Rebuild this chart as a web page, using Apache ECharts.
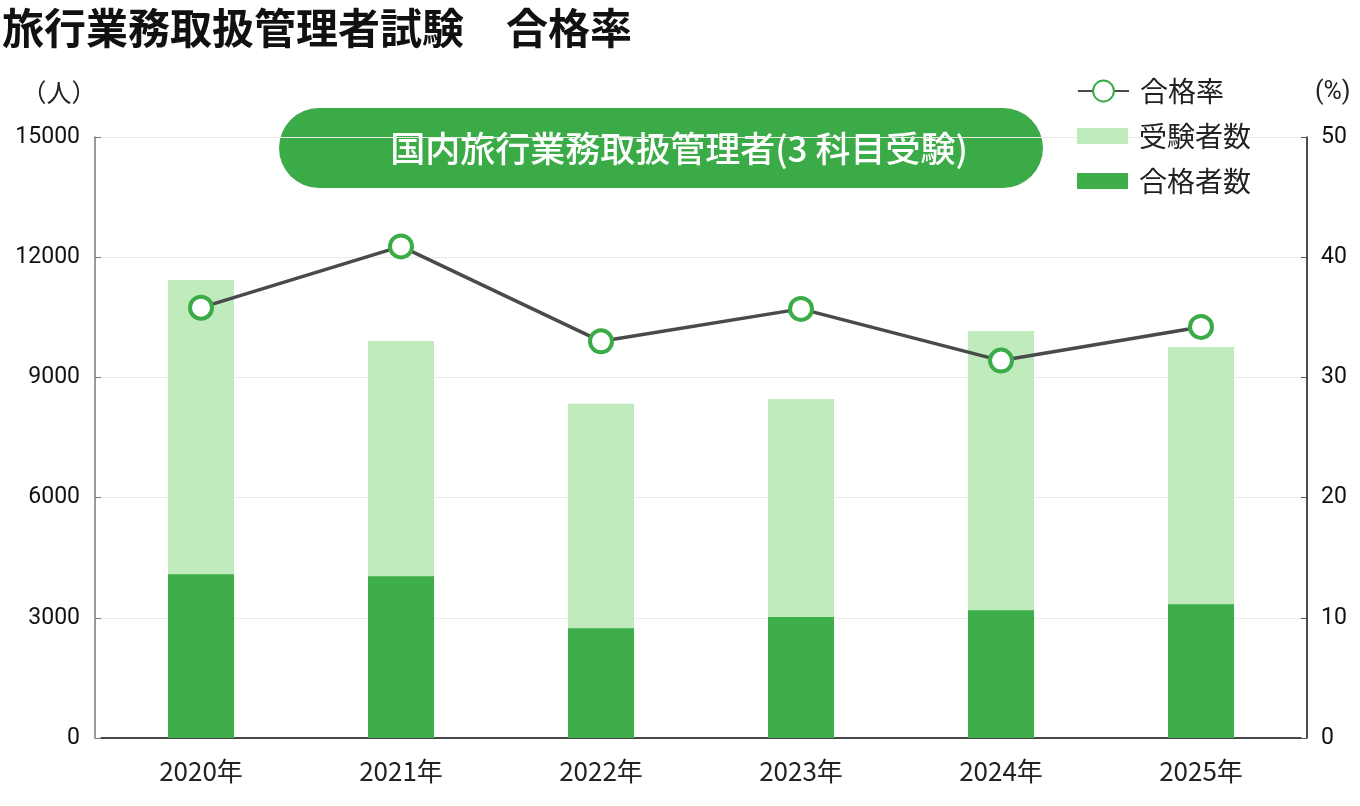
<!DOCTYPE html>
<html>
<head>
<meta charset="utf-8">
<script src="https://cdn.jsdelivr.net/npm/echarts@6/dist/echarts.min.js"></script>
<style>
  html, body { margin: 0; padding: 0; background: #fff; }
  #chart { width: 1360px; height: 806px; }
</style>
</head>
<body>
<div id="chart"></div>
<script>
// data
const years = ['2020年', '2021年', '2022年', '2023年', '2024年', '2025年'];
const examinees = [11430, 9910, 8340, 8460, 10160, 9760];
const passers = [4090, 4040, 2740, 3020, 3190, 3340];
const passRate = [35.8, 40.9, 33.0, 35.7, 31.4, 34.2];
const leftTicks = [0, 3000, 6000, 9000, 12000, 15000];
const rightTicks = [0, 10, 20, 30, 40, 50];

const jpFont = '"Noto Sans CJK JP", "Noto Sans", sans-serif';
const numFont = 'Roboto, "Noto Sans CJK JP", sans-serif';

const chart = echarts.init(document.getElementById('chart'));

const legendText = { fontFamily: jpFont, fontSize: 28, lineHeight: 32, color: '#222', padding: [0, 0, 0, 6] };

let option = {
  animation: false,
  backgroundColor: '#fff',
  title: {
    text: '旅行業務取扱管理者試験　合格率',
    left: -3,
    top: 2,
    textStyle: { fontFamily: jpFont, fontSize: 42, fontWeight: 'bold', color: '#111' }
  },
  legend: [
    {
      left: 1072,
      top: 70,
      itemWidth: 51,
      itemHeight: 26,
      textStyle: legendText,
      data: ['合格率']
    },
    {
      orient: 'vertical',
      left: 1072,
      top: 115,
      itemGap: 13,
      itemWidth: 51,
      itemHeight: 16,
      textStyle: legendText,
      data: [
        { name: '受験者数', icon: 'rect' },
        { name: '合格者数', icon: 'rect' }
      ]
    }
  ],
  // categories sit 6px inside the axis lines, as in the reference
  grid: { left: 101, right: 59, top: 137, bottom: 68 },
  xAxis: {
    type: 'category',
    data: years,
    axisLine: { lineStyle: { color: '#111', width: 1.5 } },
    axisTick: { show: false },
    axisLabel: { fontFamily: jpFont, fontSize: 26, color: '#222', margin: 20 }
  },
  yAxis: [
    {
      type: 'value',
      name: '（人）',
      nameLocation: 'end',
      nameGap: 32,
      nameTextStyle: { fontFamily: jpFont, fontSize: 25, color: '#222', align: 'center', padding: [0, 72, 0, 0] },
      min: leftTicks[0],
      max: leftTicks[leftTicks.length - 1],
      interval: 3000,
      offset: 6,
      axisLine: { show: true, lineStyle: { color: '#777', width: 1.5 } },
      axisTick: { show: true, inside: true, length: 6, lineStyle: { color: '#777' } },
      axisLabel: { fontFamily: numFont, fontSize: 23, color: '#111', margin: 15, formatter: v => String(v) },
      splitLine: { lineStyle: { color: '#ebebeb' } }
    },
    {
      type: 'value',
      name: '(%)',
      nameLocation: 'end',
      nameGap: 32,
      nameTextStyle: { fontFamily: numFont, fontSize: 25, color: '#222', align: 'left', padding: [0, 0, 0, 8] },
      min: rightTicks[0],
      max: rightTicks[rightTicks.length - 1],
      interval: 10,
      position: 'right',
      offset: 6,
      axisLine: { show: true, lineStyle: { color: '#111', width: 1.5 } },
      axisTick: { show: true, inside: true, length: 6, lineStyle: { color: '#555' } },
      axisLabel: { fontFamily: numFont, fontSize: 23, color: '#111', margin: 14 },
      splitLine: { show: false }
    }
  ],
  series: [
    {
      name: '受験者数',
      type: 'bar',
      data: examinees,
      barWidth: 66,
      barGap: '-100%',
      itemStyle: { color: '#bfebbd' },
      z: 1
    },
    {
      name: '合格者数',
      type: 'bar',
      data: passers,
      barWidth: 66,
      itemStyle: { color: '#3dae4a' },
      z: 2
    },
    {
      name: '合格率',
      type: 'line',
      yAxisIndex: 1,
      data: passRate,
      symbol: 'circle',
      symbolSize: 22,
      lineStyle: { color: '#4a4a4a', width: 3.5 },
      itemStyle: { color: '#fff', borderColor: '#3aab47', borderWidth: 4 },
      z: 5
    }
  ],
  graphic: [
    {
      type: 'group',
      left: 279,
      top: 108,
      z: 10,
      children: [
        {
          type: 'rect',
          shape: { x: 0, y: 0, width: 764, height: 80, r: 40 },
          style: { fill: '#3aab47' }
        },
        {
          type: 'text',
          x: 400,
          y: 41,
          style: {
            text: '国内旅行業務取扱管理者(3 科目受験)',
            fill: '#fff',
            fontFamily: jpFont,
            fontSize: 35,
            fontWeight: 500,
            align: 'center',
            verticalAlign: 'middle'
          }
        }
      ]
    }
  ]
};

chart.setOption(option);
</script>
</body>
</html>
